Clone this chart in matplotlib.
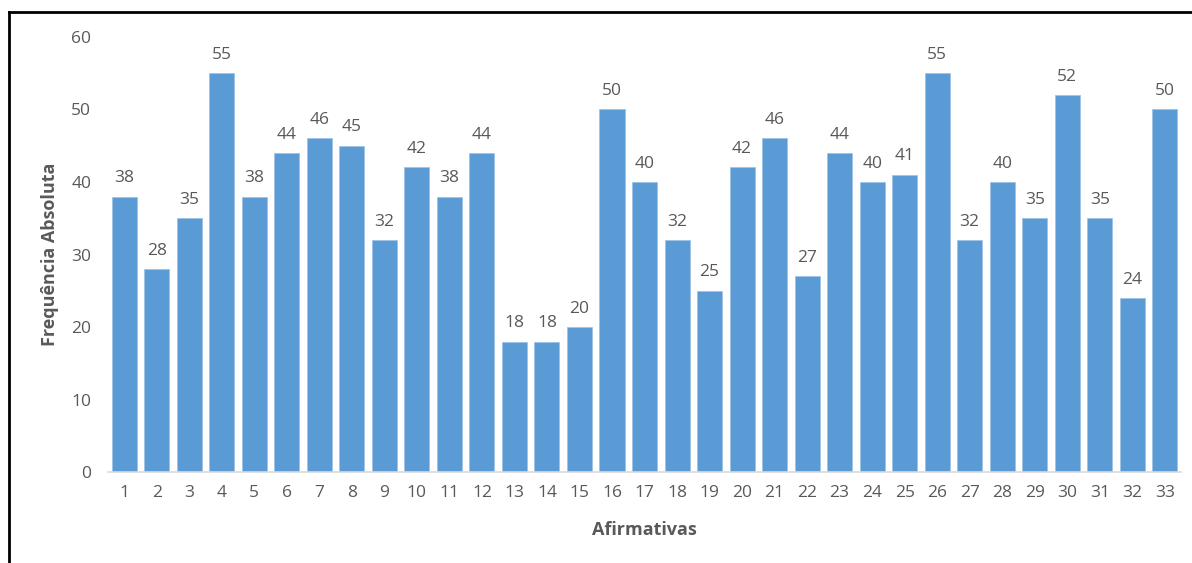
import matplotlib
matplotlib.use("Agg")
import matplotlib.pyplot as plt
from matplotlib.lines import Line2D

# Frequência absoluta por afirmativa
afirmativas = [str(i) for i in range(1, 34)]
frequencias = [38, 28, 35, 55, 38, 44, 46, 45, 32, 42, 38, 44, 18, 18, 20, 50,
               40, 32, 25, 42, 46, 27, 44, 40, 41, 55, 32, 40, 35, 52, 35, 24, 50]
yticks = [0, 10, 20, 30, 40, 50, 60]

plt.rcParams['font.family'] = ['Open Sans', 'DejaVu Sans']
cinza = '#595959'

fig = plt.figure(figsize=(11.92, 5.63), dpi=100)
ax = fig.add_axes([0.0906, 0.1616, 0.9002, 0.7727])

x = list(range(len(afirmativas)))
bars = ax.bar(x, frequencias, width=0.77, color='#5B9BD5',
              edgecolor='#9DC3E6', linewidth=0.6, zorder=2)

for b, v in zip(bars, frequencias):
    ax.annotate(str(v), (b.get_x() + b.get_width() / 2, v),
                xytext=(0, 7.5), textcoords='offset points',
                ha='center', va='bottom', fontsize=12.5, color=cinza)

ax.set_xlim(-0.5, len(afirmativas) - 0.5)
ax.set_ylim(0, 60)
ax.set_xticks(x)
ax.set_xticklabels(afirmativas)
ax.set_yticks(yticks)
ax.tick_params(axis='both', length=0, labelsize=12.5, colors=cinza)
ax.tick_params(axis='x', pad=9)
ax.tick_params(axis='y', pad=12)

for s in ['top', 'right', 'left']:
    ax.spines[s].set_visible(False)
ax.spines['bottom'].set_color('#D9D9D9')
ax.spines['bottom'].set_linewidth(1.2)

ax.set_xlabel('Afirmativas', fontsize=13, fontweight='bold', color=cinza, labelpad=15)
ax.set_ylabel('Frequência Absoluta', fontsize=13, fontweight='bold', color=cinza, labelpad=9)

# moldura parcial (esquerda e topo)
fig.add_artist(Line2D([9 / 1192, 9 / 1192], [0, 1 - 12 / 563], color='black', lw=2))
fig.add_artist(Line2D([9 / 1192, 1], [1 - 12 / 563, 1 - 12 / 563], color='black', lw=2))

fig.savefig('out.png', dpi=100)
